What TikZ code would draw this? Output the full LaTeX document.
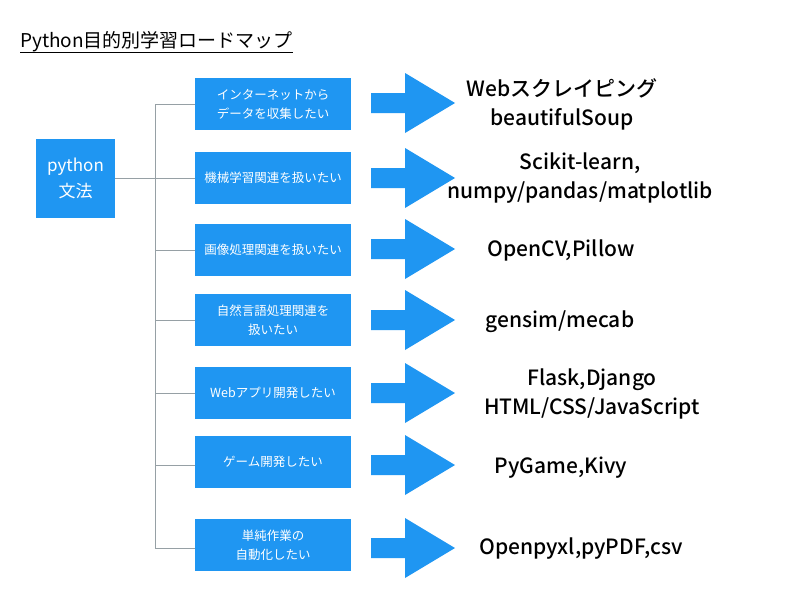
\documentclass[tikz,border=0pt]{standalone}
\usepackage{fontspec}
\setmainfont{Noto Sans CJK JP}
\newfontfamily\labelfont{Noto Sans CJK JP}[UprightFont=* Medium]
\definecolor{boxblue}{RGB}{31,150,242}
\definecolor{linegray}{RGB}{150,160,165}
\tikzset{
  bluebox/.style={fill=boxblue, text=white, minimum width=156pt, minimum height=52pt, inner sep=0pt, align=center, font=\fontsize{12.5}{19}\selectfont},
  bigarrow/.pic={\fill[boxblue] (0,-10) -- (34,-10) -- (34,-30) -- (84,0) -- (34,30) -- (34,10) -- (0,10) -- cycle;},
  label/.style={align=center, font=\labelfont\fontsize{21}{29}\selectfont, text=black},
  branch/.style={draw=linegray, line width=0.9pt}
}
\begin{document}
\begin{tikzpicture}[x=1pt, y=-1pt]
\useasboundingbox (0,0) rectangle (800,594);
\fill[white] (0,0) rectangle (800,594);
% title
\node[anchor=west, inner sep=0pt, font=\fontsize{19}{22}\selectfont] (title) at (20,42) {Python目的別学習ロードマップ};
\draw[line width=0.9pt] (title.west |- 0,52) -- (title.east |- 0,52);
% root
\node[fill=boxblue, text=white, minimum width=79pt, minimum height=79pt, inner sep=0pt, align=center, font=\fontsize{17}{26}\selectfont] (root) at (75.5,178.5) {python\\文法};
% boxes
\node[bluebox] (b1) at (273,104) {インターネットから\\データを収集したい};
\node[bluebox] (b2) at (273,178) {機械学習関連を扱いたい};
\node[bluebox] (b3) at (273,250) {画像処理関連を扱いたい};
\node[bluebox] (b4) at (273,320) {自然言語処理関連を\\扱いたい};
\node[bluebox] (b5) at (273,393) {Webアプリ開発したい};
\node[bluebox] (b6) at (273,462) {ゲーム開発したい};
\node[bluebox] (b7) at (273,545) {単純作業の\\自動化したい};
% tree
\coordinate (vtop) at (155,104);
\coordinate (vbot) at (155,548);
\draw[branch] (vtop) -- (vbot);
\draw[branch] (root.east) -- (155,178.5);
\draw[branch] (vtop) -- (b1.west);
\draw[branch] (155,178) -- (b2.west);
\draw[branch] (155,250) -- (b3.west);
\draw[branch] (155,320) -- (b4.west);
\draw[branch] (155,393) -- (b5.west);
\draw[branch] (155,465) -- (b6.west |- 0,465);
\draw[branch] (vbot) -- (b7.west |- vbot);
% arrows
\pic (a1) at (371,103) {bigarrow};
\pic (a2) at (371,178) {bigarrow};
\pic (a3) at (371,249) {bigarrow};
\pic (a4) at (371,320) {bigarrow};
\pic (a5) at (371,393) {bigarrow};
\pic (a6) at (371,465) {bigarrow};
\pic (a7) at (371,548) {bigarrow};
% labels
\node[label] (l1) at (562,104) {Webスクレイピング\\beautifulSoup};
\node[label] (l2) at (580,178) {Scikit-learn,\\numpy/pandas/matplotlib};
\node[label] (l3) at (561,250) {OpenCV,Pillow};
\node[label] (l4) at (560,322) {gensim/mecab};
\node[label] (l5) at (592,394) {Flask,Django\\HTML/CSS/JavaScript};
\node[label] (l6) at (561,468) {PyGame,Kivy};
\node[label] (l7) at (581,549) {Openpyxl,pyPDF,csv};
\end{tikzpicture}
\end{document}
